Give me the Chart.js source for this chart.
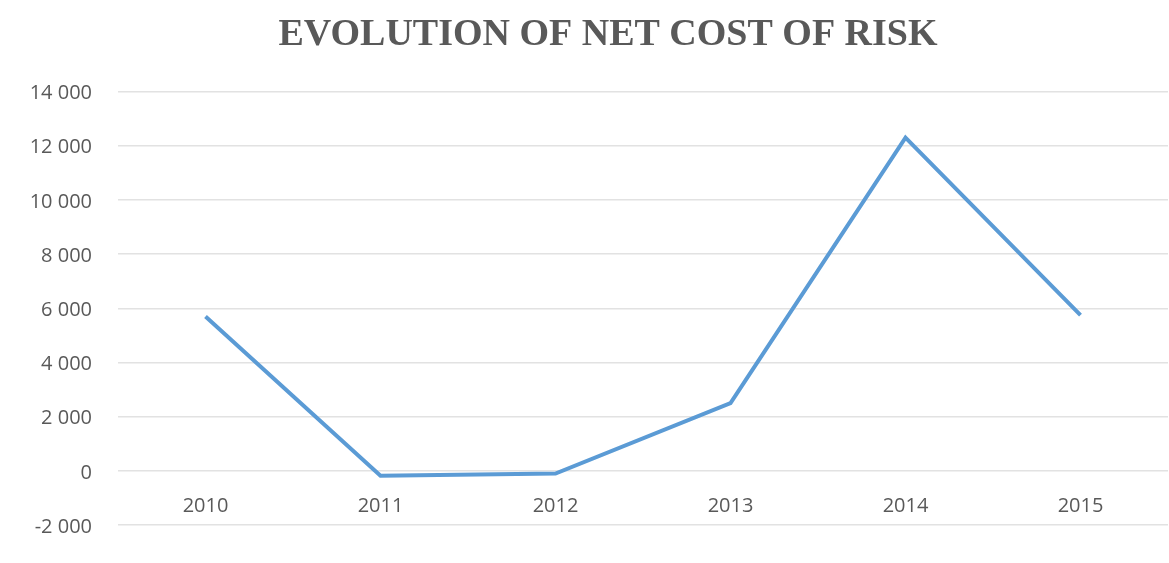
<!DOCTYPE html>
<html>
<head>
<meta charset="utf-8">
<script src="https://cdn.jsdelivr.net/npm/chart.js@4/dist/chart.umd.min.js"></script>
<style>
  html, body { margin: 0; padding: 0; background: #fff; }
  #wrap { width: 1169px; height: 563px; }
</style>
</head>
<body>
<div id="wrap"><canvas id="chart"></canvas></div>
<script>
// values
const years = ['2010', '2011', '2012', '2013', '2014', '2015'];
const netCostOfRisk = [5700, -180, -100, 2500, 12300, 5750];
const yMin = -2000;
const yMax = 14000;
const yStep = 2000;

const labelColor = '#595959';
const gridColor = '#e2e2e2';

// "14 000" style, space as thousand separator
const fmt = v => String(v).replace(/\B(?=(\d{3})+(?!\d))/g, ' ');

// the title in the original sits a little right of the page centre
const shiftTitle = {
  id: 'shiftTitle',
  afterLayout(chart) {
    if (chart.titleBlock) chart.titleBlock.left = 48;
  }
};

const ctx = document.getElementById('chart');
new Chart(ctx, {
  type: 'line',
  data: {
    labels: years,
    datasets: [{
      label: 'Net cost of risk',
      data: netCostOfRisk,
      borderColor: '#5b9bd5',
      borderWidth: 4,
      tension: 0,
      pointRadius: 0,
      fill: false
    }]
  },
  options: {
    responsive: true,
    maintainAspectRatio: false,
    animation: false,
    layout: { padding: { left: 0, right: 1, top: 0, bottom: 32 } },
    plugins: {
      legend: { display: false },
      tooltip: { enabled: false },
      title: {
        display: true,
        text: 'EVOLUTION OF NET COST OF RISK',
        color: labelColor,
        font: { family: '"Liberation Serif", "Times New Roman", serif', size: 38, weight: 'bold' },
        padding: { top: 12, bottom: 34 }
      }
    },
    scales: {
      x: {
        type: 'category',
        position: { y: 0 },
        offset: true,
        grid: { display: false, drawTicks: false },
        border: { display: false },
        ticks: {
          color: labelColor,
          padding: 23,
          font: { family: '"Open Sans", sans-serif', size: 20 }
        },
        // axis sits on the zero line, so it should not take room at the bottom
        afterFit: scale => { scale.height = 0; }
      },
      y: {
        min: yMin,
        max: yMax,
        grid: { color: gridColor, lineWidth: 1.5, drawTicks: false },
        border: { display: false },
        ticks: {
          stepSize: yStep,
          color: labelColor,
          padding: 26,
          labelOffset: 2,
          font: { family: '"Open Sans", sans-serif', size: 20 },
          callback: v => fmt(v)
        },
        afterFit: scale => { scale.width = 118; }
      }
    }
  },
  plugins: [shiftTitle]
});
</script>
</body>
</html>
